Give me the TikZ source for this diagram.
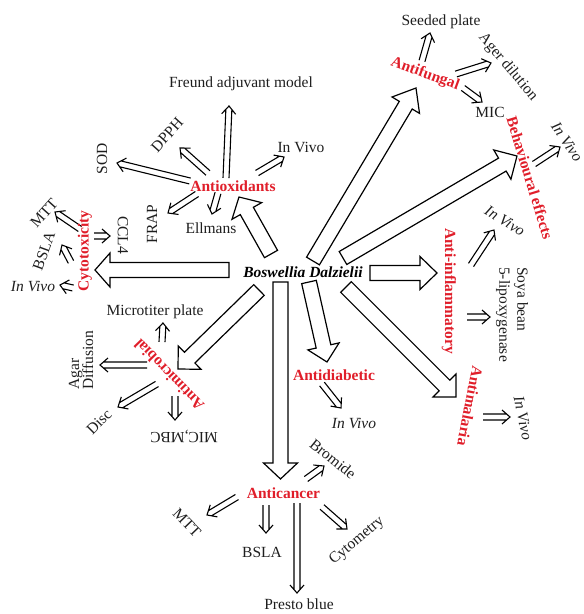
\documentclass[tikz,border=0pt]{standalone}
\usepackage{fontspec}
\setmainfont{Liberation Serif}
\usetikzlibrary{calc}

\definecolor{catred}{RGB}{224,30,42}
\definecolor{ink}{RGB}{30,30,30}

\tikzset{
  hub/.style={text=black, inner sep=0pt, font=\fontsize{15.5}{18}\selectfont\bfseries\itshape},
  cat/.style={text=catred, inner sep=0pt, font=\fontsize{15.5}{18}\selectfont\bfseries},
  leaf/.style={text=ink, inner sep=0pt, font=\fontsize{15.5}{18}\selectfont},
  leafit/.style={text=ink, inner sep=0pt, font=\fontsize{15.5}{18}\selectfont\itshape},
  blockarrow/.style={draw=black, fill=white, line width=1.2pt, line join=miter},
  thinarrow/.style={draw=black, line width=1.1pt, line join=miter},
}

% hollow block arrow: tail, tip, shaft half width, head half width, head length
\newcommand{\blockarr}[5]{%
  \draw[blockarrow]
    ($(#1)!#3!90:(#2)$) -- ($(#2)!#5!(#1)!#3!90:(#2)$) -- ($(#2)!#5!(#1)!#4!90:(#2)$)
    -- (#2) -- ($(#2)!#5!(#1)!#4!-90:(#2)$) -- ($(#2)!#5!(#1)!#3!-90:(#2)$)
    -- ($(#1)!#3!-90:(#2)$) -- cycle;}

% double-line arrow with an open chevron head: tail, tip
\newcommand{\dblarr}[2]{%
  \draw[thinarrow]
    ($(#1)!3pt!90:(#2)$) -- ($(#2)!3.4pt!(#1)!3pt!90:(#2)$)
    ($(#1)!3pt!-90:(#2)$) -- ($(#2)!3.4pt!(#1)!3pt!-90:(#2)$)
    ($(#2)!8pt!(#1)!7pt!90:(#2)$) -- (#2) -- ($(#2)!8pt!(#1)!7pt!-90:(#2)$);}

\begin{document}
\begin{tikzpicture}[x=1pt, y=-1pt]
\useasboundingbox (0,0) rectangle (584,614);

% ---------- main block arrows ----------
\coordinate (t-cy) at (229,270);   \coordinate (h-cy) at (95,270);
\coordinate (t-ax) at (271,254);   \coordinate (h-ax) at (239,197);
\coordinate (t-af) at (313,261);   \coordinate (h-af) at (416,88);
\coordinate (t-be) at (343,258);   \coordinate (h-be) at (517,156);
\coordinate (t-ai) at (370,273);   \coordinate (h-ai) at (437,273);
\coordinate (t-ad) at (309,282);   \coordinate (h-ad) at (327,362);
\coordinate (t-am) at (346,287);   \coordinate (h-am) at (456,397);
\coordinate (t-mi) at (259,290);   \coordinate (h-mi) at (178,369);
\coordinate (t-ac) at (280.5,282); \coordinate (h-ac) at (280.5,479);

\blockarr{t-cy}{h-cy}{7.5pt}{17pt}{15pt}
\blockarr{t-ax}{h-ax}{7.5pt}{17pt}{16pt}
\blockarr{t-af}{h-af}{7.5pt}{16pt}{20pt}
\blockarr{t-be}{h-be}{7.5pt}{17pt}{17pt}
\blockarr{t-ai}{h-ai}{7.5pt}{16.5pt}{17pt}
\blockarr{t-ad}{h-ad}{7.5pt}{16pt}{16pt}
\blockarr{t-am}{h-am}{7.5pt}{16.3pt}{16.3pt}
\blockarr{t-mi}{h-mi}{7.5pt}{16.3pt}{16.3pt}
\blockarr{t-ac}{h-ac}{7.5pt}{17pt}{16pt}

% ---------- double arrows ----------
% antioxidants
\coordinate (ax1a) at (226,178); \coordinate (ax1b) at (229,106);
\coordinate (ax2a) at (208,173); \coordinate (ax2b) at (180,148);
\coordinate (ax3a) at (190,181); \coordinate (ax3b) at (117,163);
\coordinate (ax4a) at (197,194); \coordinate (ax4b) at (168,213);
\coordinate (ax5a) at (218,193); \coordinate (ax5b) at (212,214);
\coordinate (ax6a) at (257,173); \coordinate (ax6b) at (284,157);
\dblarr{ax1a}{ax1b}
\dblarr{ax2a}{ax2b}
\dblarr{ax3a}{ax3b}
\dblarr{ax4a}{ax4b}
\dblarr{ax5a}{ax5b}
\dblarr{ax6a}{ax6b}
% cytotoxicity
\coordinate (cy1a) at (80,229); \coordinate (cy1b) at (55,212);
\coordinate (cy2a) at (71,262); \coordinate (cy2b) at (62,245);
\coordinate (cy3a) at (94,236); \coordinate (cy3b) at (110,236);
\coordinate (cy4a) at (73,288); \coordinate (cy4b) at (60,285);
\dblarr{cy1a}{cy1b}
\dblarr{cy2a}{cy2b}
\dblarr{cy3a}{cy3b}
\dblarr{cy4a}{cy4b}
% antifungal
\coordinate (af1a) at (422,61); \coordinate (af1b) at (430,33);
\coordinate (af2a) at (456,74); \coordinate (af2b) at (491,63);
\coordinate (af3a) at (463,88); \coordinate (af3b) at (482,102);
\dblarr{af1a}{af1b}
\dblarr{af2a}{af2b}
\dblarr{af3a}{af3b}
% behavioural effects
\coordinate (be1a) at (534,164); \coordinate (be1b) at (560,147);
\dblarr{be1a}{be1b}
% anti-inflammatory
\coordinate (ai1a) at (471,265); \coordinate (ai1b) at (494,230);
\coordinate (ai2a) at (467,317); \coordinate (ai2b) at (490,317);
\dblarr{ai1a}{ai1b}
\dblarr{ai2a}{ai2b}
% antimalaria
\coordinate (am1a) at (483,417); \coordinate (am1b) at (510,417);
\dblarr{am1a}{am1b}
% antidiabetic
\coordinate (ad1a) at (322,384); \coordinate (ad1b) at (341,408);
\dblarr{ad1a}{ad1b}
% antimicrobial
\coordinate (mi1a) at (162,342); \coordinate (mi1b) at (163,323);
\coordinate (mi2a) at (147,365); \coordinate (mi2b) at (100,365);
\coordinate (mi3a) at (157,384); \coordinate (mi3b) at (118,407);
\coordinate (mi4a) at (175,396); \coordinate (mi4b) at (175,420);
\dblarr{mi1a}{mi1b}
\dblarr{mi2a}{mi2b}
\dblarr{mi3a}{mi3b}
\dblarr{mi4a}{mi4b}
% anticancer
\coordinate (ac1a) at (306,479); \coordinate (ac1b) at (324,466);
\coordinate (ac2a) at (237,497); \coordinate (ac2b) at (207,515);
\coordinate (ac3a) at (266,505); \coordinate (ac3b) at (266,533);
\coordinate (ac4a) at (297,503); \coordinate (ac4b) at (297,593);
\coordinate (ac5a) at (322,507); \coordinate (ac5b) at (347,529);
\dblarr{ac1a}{ac1b}
\dblarr{ac2a}{ac2b}
\dblarr{ac3a}{ac3b}
\dblarr{ac4a}{ac4b}
\dblarr{ac5a}{ac5b}

% ---------- centre ----------
\node[hub] (bd) at (303,272) {Boswellia Dalzielii};

% ---------- categories ----------
\node[cat] (ax) at (233,186) {Antioxidants};
\node[cat, rotate=90] (cy) at (85,251) {Cytotoxicity};
\node[cat, rotate=-20] (af) at (425,74) {Antifungal};
\node[cat, rotate=-73] (be) at (530,178) {Behavioural effects};
\node[cat, rotate=-90] (ai) at (449,291) {Anti-inflammatory};
\node[cat, rotate=-101] (am) at (470,406) {Antimalaria};
\node[cat] (ad) at (334,375) {Antidiabetic};
\node[cat] (ac) at (283.5,493) {Anticancer};
\node[cat, rotate=134] (mi) at (169,375) {Antimicrobial};

% ---------- antioxidants ----------
\node[leaf] (fr) at (241,84) {Freund adjuvant model};
\node[leaf, rotate=48] (dp) at (167,135) {DPPH};
\node[leaf, rotate=90] (so) at (102,159) {SOD};
\node[leaf, rotate=90] (fp) at (152,224) {FRAP};
\node[leaf] (el) at (211,228) {Ellmans};
\node[leaf] (iv1) at (301,147) {In Vivo};

% ---------- cytotoxicity ----------
\node[leaf, rotate=48] (mt1) at (44,213) {MTT};
\node[leaf, rotate=70] (bs1) at (44,251) {BSLA};
\node[leaf, rotate=-90] (cc) at (123,235) {CCL4};
\node[leafit] (iv2) at (33,286) {In Vivo};

% ---------- antifungal ----------
\node[leaf] (sp) at (441,22) {Seeded plate};
\node[leaf, rotate=-50] (ag) at (508,67) {Ager dilution};
\node[leaf] (mc) at (490,112) {MIC};

% ---------- behavioural effects ----------
\node[leafit, rotate=-56] (iv3) at (567,142) {In Vivo};

% ---------- anti-inflammatory ----------
\node[leafit, rotate=-32] (iv4) at (505,221) {In Vivo};
\node[leaf, rotate=-90, anchor=west, align=left] (sb) at (512,267) {Soya bean\\5-lipoxygenase};

% ---------- antimalaria ----------
\node[leafit, rotate=-78] (iv5) at (523,418) {In Vivo};

% ---------- antidiabetic ----------
\node[leafit] (iv6) at (354,423) {In Vivo};

% ---------- antimicrobial ----------
\node[leaf] (mtp) at (155,312) {Microtiter plate};
\node[leaf, rotate=90, anchor=west, align=left] (agd) at (81,390) {Agar\\[-4pt]Diffusion};
\node[leaf, rotate=45] (ds) at (99,422) {Disc};
\node[leaf, rotate=180] (mm) at (184,436) {MIC,MBC};

% ---------- anticancer ----------
\node[leaf, rotate=-39] (br) at (333,459) {Bromide};
\node[leaf, rotate=-46] (mt2) at (187,523) {MTT};
\node[leaf] (bs2) at (262,552) {BSLA};
\node[leaf] (pb) at (299,604) {Presto blue};
\node[leaf, rotate=40] (cm) at (357,541) {Cytometry};
\end{tikzpicture}
\end{document}
